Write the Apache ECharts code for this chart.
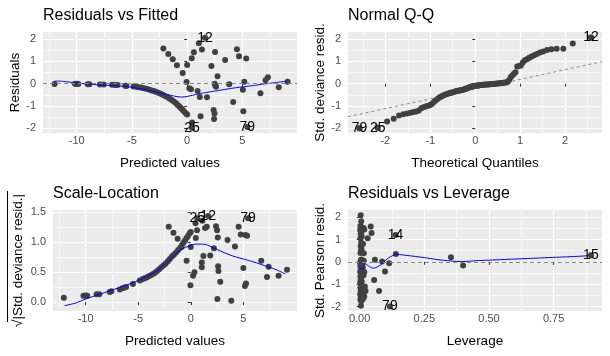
<!DOCTYPE html>
<html><head><meta charset="utf-8">
<script src="https://cdn.jsdelivr.net/npm/echarts@6/dist/echarts.min.js"></script>
<style>html,body{margin:0;padding:0;background:#fff}#c{width:610px;height:356px}</style>
</head><body><div id="c"></div>
<script>
// ---------- Residuals vs Fitted ----------
const rvfPoints = [
 [-12.0,-0.01],[-10.15,0.0],[-10.05,-0.01],[-9.95,0.0],[-9.85,-0.01],[-9.0,-0.02],[-8.85,-0.02],[-7.9,-0.03],[-7.55,-0.04],
 [-6.8,-0.05],[-6.6,-0.05],[-6.45,-0.06],[-6.3,-0.06],[-5.6,-0.09],[-5.5,-0.1],[-4.85,-0.13],[-4.6,-0.14],[-4.4,-0.16],
 [-4.2,-0.17],[-4.0,-0.19],[-3.8,-0.21],[-3.6,-0.24],[-3.4,-0.27],[-3.2,-0.30],[-3.0,-0.33],[-2.8,-0.37],[-2.6,-0.41],
 [-2.4,-0.45],[-2.2,-0.50],[-2.0,-0.55],[-1.8,-0.60],[-1.6,-0.66],[-1.4,-0.73],[-1.2,-0.80],[-1.0,-0.88],[-0.85,-0.95],
 [-0.7,-1.02],[-0.55,-1.10],[-0.4,-1.18],[-0.25,-1.26],[-0.1,-1.33],[0.0,-1.38],
 [-2.15,1.58],[-1.7,1.33],[-1.3,1.10],[-0.92,0.83],[-0.4,0.48],[-0.05,0.08],[0.2,-0.2],[0.35,-0.25],
 [0.0,0.84],[0.42,1.14],[0.61,1.41],[1.06,1.81],[1.34,1.54],
 [0.95,-0.33],[1.15,-0.6],[1.8,-0.61],[1.22,-1.46],[0.45,-1.74],
 [2.2,0.8],[2.53,1.42],[2.75,0.34],[2.5,0.0],[2.62,-0.14],[2.55,-0.08],[2.4,-1.18],[2.48,-1.33],[2.44,-1.58],
 [3.44,1.06],[3.81,-0.02],[4.17,-0.82],[4.51,1.55],[4.7,1.23],[5.35,1.13],[5.18,0.09],[5.05,-0.27],[5.09,-1.23],
 [6.64,-0.43],[7.1,0.16],[7.32,0.29],[8.3,-0.16],[9.1,0.09]
];
const rvfSmooth = [
 [-12,0.12],[-11.3,0.11],[-10,0.03],[-9,-0.01],[-8,-0.05],[-7,-0.08],[-6,-0.11],[-5,-0.16],[-4,-0.24],[-3,-0.34],
 [-2,-0.47],[-1,-0.57],[-0.5,-0.6],[0,-0.57],[1,-0.46],[2,-0.37],[3,-0.29],[4,-0.21],[5,-0.14],[6,-0.08],[7,-0.01],[8,0.05],[9,0.12]
];
const rvfLabels = [[1.62,2.06,'12'],[0.45,-1.99,'25'],[5.45,-1.94,'79']];
const rvfXTicks = [-10,-5,0,5];
const rvfYTicks = [-2,-1,0,1,2];

// ---------- Normal Q-Q ----------
const qqTheo = [
 -2.576,-2.170,-1.960,-1.812,-1.695,-1.598,-1.514,-1.440,-1.372,-1.311,-1.254,-1.200,-1.150,-1.103,-1.058,-1.015,-0.974,-0.935,-0.896,-0.860,
 -0.824,-0.789,-0.755,-0.722,-0.690,-0.659,-0.628,-0.598,-0.568,-0.539,-0.510,-0.482,-0.454,-0.426,-0.399,-0.372,-0.345,-0.319,-0.292,-0.266,
 -0.240,-0.215,-0.189,-0.164,-0.138,-0.113,-0.088,-0.063,-0.038,-0.013,
 0.013,0.038,0.063,0.088,0.113,0.138,0.164,0.189,0.215,0.240,0.266,0.292,0.319,0.345,0.372,0.399,0.426,0.454,0.482,0.510,
 0.539,0.568,0.598,0.628,0.659,0.690,0.722,0.755,0.789,0.824,0.860,0.896,0.935,0.974,1.015,1.058,1.103,1.150,1.200,1.254,
 1.311,1.372,1.440,1.514,1.598,1.695,1.812,1.960,2.170,2.576
];
const qqResid = [
 -2.00,-1.98,-1.69,-1.57,-1.43,-1.37,-1.33,-1.30,-1.27,-1.25,-1.20,-1.10,-1.06,-1.02,-1.00,-0.97,-0.92,-0.85,-0.78,-0.72,
 -0.66,-0.61,-0.57,-0.54,-0.51,-0.48,-0.46,-0.44,-0.42,-0.40,-0.39,-0.37,-0.36,-0.34,-0.32,-0.31,-0.30,-0.29,-0.28,-0.27,
 -0.25,-0.23,-0.21,-0.19,-0.17,-0.15,-0.13,-0.12,-0.11,-0.10,
 -0.09,-0.08,-0.08,-0.07,-0.06,-0.06,-0.05,-0.05,-0.04,-0.04,-0.03,-0.03,-0.02,-0.02,-0.01,-0.01,0.00,0.00,0.01,0.01,
 0.02,0.02,0.03,0.04,0.05,0.06,0.09,0.17,0.29,0.37,0.45,0.52,0.77,0.80,0.82,0.95,1.05,1.10,1.17,1.22,
 1.28,1.33,1.40,1.45,1.51,1.55,1.57,1.57,1.80,2.07
];
const qqLine = [[-2.83,-1.48],[2.82,0.99]];
const qqLabels = [[2.576,2.07,'12'],[-2.576,-2.0,'79'],[-2.170,-1.98,'25']];
const qqXTicks = [-2,-1,0,1,2];
const qqYTicks = [-2,-1,0,1,2];

// ---------- Scale-Location ----------
const slPoints = [
 [-12.07,0.07],[-10.2,0.105],[-10.05,0.105],[-9.95,0.11],[-9.85,0.105],[-8.95,0.13],[-8.7,0.13],[-7.7,0.17],[-7.55,0.18],
 [-6.75,0.21],[-6.5,0.23],[-6.35,0.24],[-6.15,0.25],[-5.5,0.3],[-4.85,0.36],[-4.6,0.38],[-4.4,0.4],[-4.2,0.41],[-4.0,0.43],
 [-3.8,0.45],[-3.6,0.47],[-3.4,0.49],[-3.2,0.52],[-3.0,0.55],[-2.8,0.58],[-2.6,0.61],[-2.4,0.64],[-2.2,0.68],[-2.0,0.72],
 [-1.8,0.76],[-1.6,0.79],[-1.4,0.83],[-1.2,0.87],[-1.0,0.91],[-0.85,0.95],[-0.7,0.99],[-0.55,1.03],[-0.4,1.07],[-0.25,1.11],
 [-0.1,1.15],[0.0,1.17],
 [-2.1,1.26],[-1.65,1.16],[-1.25,1.06],[-0.9,0.92],[-0.4,0.69],[-0.03,0.28],[0.22,0.44],[0.35,0.5],
 [0.0,0.92],[0.48,1.07],[0.6,1.2],[1.1,1.36],[1.36,1.24],
 [1.05,0.58],[1.05,0.66],[1.2,0.77],[1.85,0.78],[1.52,1.26],[0.45,1.32],
 [2.2,0.9],[2.4,1.27],[2.5,1.2],[2.57,1.08],[2.6,0.6],[2.63,0.52],[2.8,0.34],[2.53,0.05],
 [3.5,1.04],[3.85,0.02],[4.2,0.93],[4.55,1.26],[4.75,1.13],[5.2,1.12],[5.35,1.11],[5.0,0.57],[5.15,0.27],[5.25,0.31],
 [6.7,0.69],[7.25,0.42],[7.4,0.59],[8.35,0.44],[9.15,0.54]
];
const slSmooth = [
 [-12,-0.06],[-11,-0.02],[-10,0.05],[-9,0.11],[-8,0.17],[-7,0.23],[-6,0.29],[-5,0.36],[-4,0.44],[-3,0.55],[-2,0.7],
 [-1,0.87],[0,0.95],[0.5,0.97],[1,0.97],[1.5,0.96],[2,0.92],[3,0.84],[4,0.77],[5,0.72],[6,0.67],[7,0.61],[8,0.55],[9,0.47]
];
const slLabels = [[0.62,1.40,'25'],[1.65,1.44,'12'],[5.45,1.40,'79']];
const slXTicks = [-10,-5,0,5];
const slYTicks = [0,0.5,1,1.5];

// ---------- Residuals vs Leverage ----------
const rvlPoints = [
 [0.004,2.08],[0.006,1.82],[0.003,1.60],[0.008,1.55],[0.005,1.50],[0.010,1.45],[0.002,1.42],[0.006,1.30],[0.004,1.25],
 [0.008,1.12],[0.003,1.06],[0.006,0.85],[0.009,0.80],[0.004,0.70],[0.007,0.56],[0.005,0.48],[0.003,0.40],[0.006,0.10],
 [0.004,0.05],[0.008,-0.02],[0.002,-0.05],[0.005,-0.10],[0.007,-0.15],[0.003,-0.20],[0.006,-0.27],[0.004,-0.32],[0.008,-0.38],
 [0.002,-0.44],[0.005,-0.49],[0.007,-0.55],[0.003,-0.64],[0.006,-0.72],[0.004,-0.80],[0.008,-0.87],[0.002,-0.94],[0.005,-1.00],
 [0.007,-1.09],[0.003,-1.15],[0.006,-1.24],[0.004,-1.30],[0.008,-1.39],[0.002,-1.45],[0.005,-1.54],[0.007,-1.60],[0.003,-1.69],
 [0.006,-1.76],[0.005,-1.96],
 [0.015,1.52],[0.018,1.45],[0.013,0.80],[0.016,0.38],[0.012,-0.25],[0.015,-0.6],[0.018,-0.45],[0.02,-1.10],[0.023,-1.30],
 [0.018,-1.55],[0.014,-1.65],[0.012,-0.05],[0.016,0.05],
 [0.043,1.58],[0.046,1.29],[0.031,1.06],[0.059,0.09],[0.056,-0.81],[0.075,-1.3],[0.087,0.02],[0.098,-0.43],[0.114,-0.06],
 [0.14,0.35],[0.353,0.2],[0.4,-0.16]
];
const rvlSmooth = [
 [0.0,-0.27],[0.005,-0.3],[0.012,-0.32],[0.02,-0.08],[0.03,-0.15],[0.045,-0.26],[0.055,-0.28],[0.07,-0.22],[0.09,-0.05],
 [0.11,0.16],[0.13,0.29],[0.145,0.33],[0.18,0.29],[0.25,0.19],[0.3,0.1],[0.35,0.04],[0.4,0.01],[0.45,0.05],[0.55,0.1],
 [0.65,0.15],[0.75,0.2],[0.85,0.25],[0.9,0.29]
];
const rvlLabels = [[0.139,1.2,'14'],[0.894,0.29,'15'],[0.117,-2.0,'79']];
const rvlXTicks = [0,0.25,0.5,0.75];
const rvlYTicks = [-2,-1,0,1,2];

const titles = ['Residuals vs Fitted','Normal Q-Q','Scale-Location','Residuals vs Leverage'];

// ---------- build ----------
const FONT = '"Liberation Sans", Arial, sans-serif';
const PT = '#404040';

function axis(gi, min, max, step, ticks, dec, name, gap, isY) {
  return {
    type: 'value', gridIndex: gi, min: min, max: max, splitNumber: 5,
    minInterval: step, maxInterval: step,
    name: name, nameLocation: 'middle', nameGap: gap,
    nameTextStyle: {fontFamily: FONT, fontSize: 13.5, color: '#000'},
    axisLine: {show: false},
    axisTick: {show: true, length: 3, lineStyle: {color: '#333', width: 1}, customValues: ticks},
    axisLabel: {customValues: ticks, fontFamily: FONT, fontSize: 11, color: '#4D4D4D',
      margin: isY ? 7 : 2.5, formatter: v => Number(v).toFixed(dec)},
    splitLine: {show: true, lineStyle: {color: '#fff', width: 1.2}},
    minorTick: {show: false, splitNumber: 2},
    minorSplitLine: {show: true, lineStyle: {color: '#fff', width: 0.6}}
  };
}
function pts(i, data) {
  return {type: 'scatter', xAxisIndex: i, yAxisIndex: i, data: data, symbolSize: 6,
    itemStyle: {color: PT, opacity: 1}, z: 3};
}
function smooth(i, data) {
  return {type: 'line', xAxisIndex: i, yAxisIndex: i, data: data, showSymbol: false, smooth: 0.25,
    lineStyle: {color: '#0000FF', width: 1}, z: 4};
}
function labels(i, data) {
  return {type: 'scatter', xAxisIndex: i, yAxisIndex: i, data: data, symbolSize: 6,
    itemStyle: {color: PT, opacity: 1}, z: 6,
    label: {show: true, position: 'inside', formatter: p => p.value[2], color: '#000', fontSize: 14, fontFamily: FONT}};
}
const zeroLine = {silent: true, symbol: 'none', label: {show: false},
  lineStyle: {color: '#888', type: [4, 3], width: 1}, data: [{yAxis: 0}]};

const gridBase = {show: true, backgroundColor: '#EBEBEB', borderWidth: 0, containLabel: false, outerBoundsMode: 'none'};
const option = {
  animation: false,
  backgroundColor: '#fff',
  title: titles.map((t, i) => ({
    text: t, left: [43, 348, 53, 348][i], top: [8, 8, 186, 186][i], padding: 0,
    textStyle: {fontFamily: FONT, fontSize: 16, fontWeight: 'normal', color: '#000'}
  })),
  grid: [
    Object.assign({left: 43, top: 32, width: 254, height: 101}, gridBase),
    Object.assign({left: 348, top: 32, width: 254, height: 101}, gridBase),
    Object.assign({left: 53, top: 210, width: 244, height: 101}, gridBase),
    Object.assign({left: 348, top: 210, width: 254, height: 101}, gridBase)
  ],
  xAxis: [
    axis(0, -13.05, 9.95, 5, rvfXTicks, 0, 'Predicted values', 23, false),
    axis(1, -2.83, 2.82, 1, qqXTicks, 0, 'Theoretical Quantiles', 23, false),
    axis(2, -13.1, 10.1, 5, slXTicks, 0, 'Predicted values', 23, false),
    axis(3, -0.045, 0.937, 0.25, rvlXTicks, 2, 'Leverage', 23, false)
  ],
  yAxis: [
    axis(0, -2.21, 2.32, 1, rvfYTicks, 0, 'Residuals', 21, true),
    axis(1, -2.21, 2.32, 1, qqYTicks, 0, 'Std. deviance resid.', 21, true),
    axis(2, -0.15, 1.54, 0.5, slYTicks, 1, '√|Std. deviance resid.|', 28, true),
    axis(3, -2.2, 2.32, 1, rvlYTicks, 0, 'Std. Pearson resid.', 21, true)
  ],
  graphic: [{type: 'line', shape: {x1: 7.5, y1: 191, x2: 7.5, y2: 322}, style: {stroke: '#000', lineWidth: 1}}],
  series: [
    Object.assign(pts(0, rvfPoints), {markLine: zeroLine}),
    smooth(0, rvfSmooth),
    labels(0, rvfLabels),
    {type: 'line', xAxisIndex: 1, yAxisIndex: 1, data: qqLine, showSymbol: false,
      lineStyle: {color: '#888', type: [3, 3], width: 1}, z: 2},
    pts(1, qqTheo.map((q, k) => [q, qqResid[k]])),
    labels(1, qqLabels),
    pts(2, slPoints),
    smooth(2, slSmooth),
    labels(2, slLabels),
    Object.assign(pts(3, rvlPoints), {markLine: zeroLine}),
    smooth(3, rvlSmooth),
    labels(3, rvlLabels)
  ]
};
const chart = echarts.init(document.getElementById('c'), null, {renderer: 'canvas'});
chart.setOption(option);
</script></body></html>
